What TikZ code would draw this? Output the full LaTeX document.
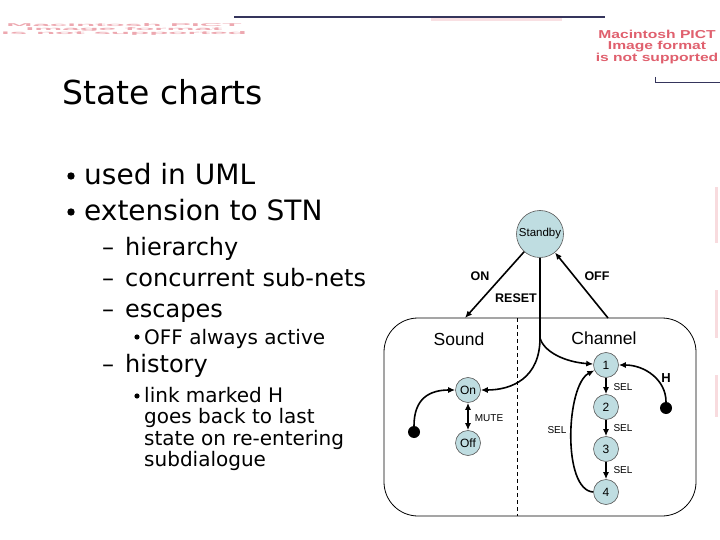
\documentclass[tikz,border=0pt]{standalone}
\usepackage{fontspec}
\usepackage{graphicx}
\setmainfont{DejaVu Sans}
\newfontfamily\arialf{Liberation Sans}
\usetikzlibrary{arrows.meta}
\definecolor{stfill}{HTML}{BFDDE1}
\definecolor{navy}{HTML}{35355C}
\definecolor{pictred}{HTML}{E0606E}
\definecolor{pictpale}{HTML}{EA98A2}
\newcommand\myfs[1]{\fontsize{#1}{#1}\selectfont}
\begin{document}
\begin{tikzpicture}[x=1pt,y=-1pt,
 stnode/.style={circle,draw=black!65,line width=0.6pt,fill=stfill,minimum size=25pt,inner sep=0pt,font=\arialf\myfs{12}},
 initdot/.style={circle,fill=black,minimum size=12pt,inner sep=0pt},
 arr/.style={line width=1.6pt,-{Latex[length=7pt,width=6pt]}},
 arrboth/.style={line width=1.6pt,{Latex[length=7pt,width=6pt]}-{Latex[length=7pt,width=6pt]}},
 lbl/.style={font=\arialf\myfs{10},inner sep=0pt},
 blbl/.style={font=\arialf\bfseries\myfs{12.5},inner sep=0pt},
 region/.style={font=\arialf\myfs{17.5},inner sep=0pt},
 lvl1/.style={anchor=base west,inner sep=0pt,font=\myfs{28}},
 lvl2/.style={anchor=base west,inner sep=0pt,font=\myfs{24}},
 lvl3/.style={anchor=base west,inner sep=0pt,font=\myfs{20}},
]
\useasboundingbox (0,0) rectangle (720,540);
\fill[white] (0,0) rectangle (720,540);

% decorative header
\fill[pictpale!30] (431,18.5) rectangle (562,21);
\draw[navy,line width=2pt] (234,17) -- (605,17);
\draw[navy,line width=1pt] (655,77) -- (655,83) -- (720,83);
\node[text=pictpale!85,inner sep=0pt,font=\arialf\bfseries\fontsize{11}{11.8}\selectfont] (garble) at (124,29.5)
  {\scalebox{2.85}[0.37]{\begin{tabular}{@{}c@{}}Macintosh PICT\\Image format\\is not supported\end{tabular}}};
\node[text=pictred,inner sep=0pt,align=center,font=\arialf\bfseries\fontsize{11.5}{11.8}\selectfont] (pict) at (657,47)
  {\scalebox{1.36}[1]{Macintosh PICT}\\\scalebox{1.36}[1]{Image format}\\\scalebox{1.36}[1]{is not supported}};
\fill[pictpale!35] (714.5,187) rectangle (717.5,243);
\fill[pictpale!35] (714.5,290) rectangle (717.5,338);
\fill[pictpale!35] (714.5,375) rectangle (717.5,417);

% title
\node[anchor=base west,inner sep=0pt,font=\myfs{33}] (title) at (62,105) {State charts};

% bullet list
\fill (71,176) circle[radius=3.7pt];
\node[lvl1] (b1) at (84,185) {used in UML};
\fill (71,212) circle[radius=3.7pt];
\node[lvl1] (b2) at (84,221) {extension to STN};
\node[lvl2] (d1) at (102,255) {–};
\node[lvl2] (b3) at (125,255) {hierarchy};
\node[lvl2] (d2) at (102,286) {–};
\node[lvl2] (b4) at (125,286) {concurrent sub-nets};
\node[lvl2] (d3) at (102,317) {–};
\node[lvl2] (b5) at (125,317) {escapes};
\fill (137,337) circle[radius=2.6pt];
\node[lvl3] (b6) at (144,344) {OFF always active};
\node[lvl2] (d4) at (102,372) {–};
\node[lvl2] (b7) at (125,372) {history};
\fill (137,396) circle[radius=2.6pt];
\node[lvl3] (b8) at (144,402) {link marked H};
\node[lvl3] (b9) at (144,423.5) {goes back to last};
\node[lvl3] (b10) at (144,445) {state on re-entering};
\node[lvl3] (b11) at (144,466.5) {subdialogue};

% state chart
\node[draw,line width=0.8pt,rounded corners=34pt,minimum width=312pt,minimum height=198pt,inner sep=0pt] (box) at (540,417) {};
\coordinate (divtop) at (517,318);
\coordinate (divbot) at (517,516);
\draw[dashed,dash pattern=on 4pt off 3pt,line width=0.7pt] (divtop) -- (divbot);

\node[stnode,minimum size=47pt,font=\arialf\myfs{11.5}] (standby) at (540,234) {Standby};
\node[region] (sound) at (459,339) {Sound};
\node[region] (channel) at (604,338) {Channel};

\coordinate (onend) at (465,318);
\coordinate (offstart) at (608,318);
\coordinate (split) at (540,338);
\draw[arr] (standby) -- (onend);
\draw[arr] (offstart) -- (standby);
\node[blbl] (onlbl) at (480,276) {ON};
\node[blbl] (offlbl) at (597,276) {OFF};
\node[blbl] (resetlbl) at (516,298) {RESET};

\node[stnode] (on) at (468,390) {On};
\node[stnode] (off) at (468,443) {Off};
\node[stnode] (n1) at (606,365) {1};
\node[stnode] (n2) at (606,407) {2};
\node[stnode] (n3) at (606,449) {3};
\node[stnode] (n4) at (606,492) {4};
\node[initdot] (dotl) at (414,432) {};
\node[initdot] (doth) at (666,408) {};

\draw[line width=1.3pt] (standby.south) -- (split);
\draw[arr] (split) .. controls (540,378) and (512,390) .. (on);
\draw[arr] (split) .. controls (544,352) and (565,362) .. (n1);
\draw[arr] (dotl) .. controls (414,398) and (430,390) .. (on);
\draw[arrboth] (on) -- (off);
\node[lbl] (mute) at (489,418) {MUTE};

\draw[arr] (n1) -- (n2);
\draw[arr] (n2) -- (n3);
\draw[arr] (n3) -- (n4);
\node[lbl] (sel1) at (623,387) {SEL};
\node[lbl] (sel2) at (623,428) {SEL};
\node[lbl] (sel3) at (623,470) {SEL};
\draw[arr] (n4.west) .. controls (562,490) and (566,385) .. (n1.205);
\node[lbl] (sel4) at (557,430) {SEL};
\draw[arr] (doth) .. controls (666,380) and (645,365) .. (n1);
\node[blbl,font=\arialf\bfseries\myfs{13}] (hlbl) at (666,378) {H};
\end{tikzpicture}
\end{document}
